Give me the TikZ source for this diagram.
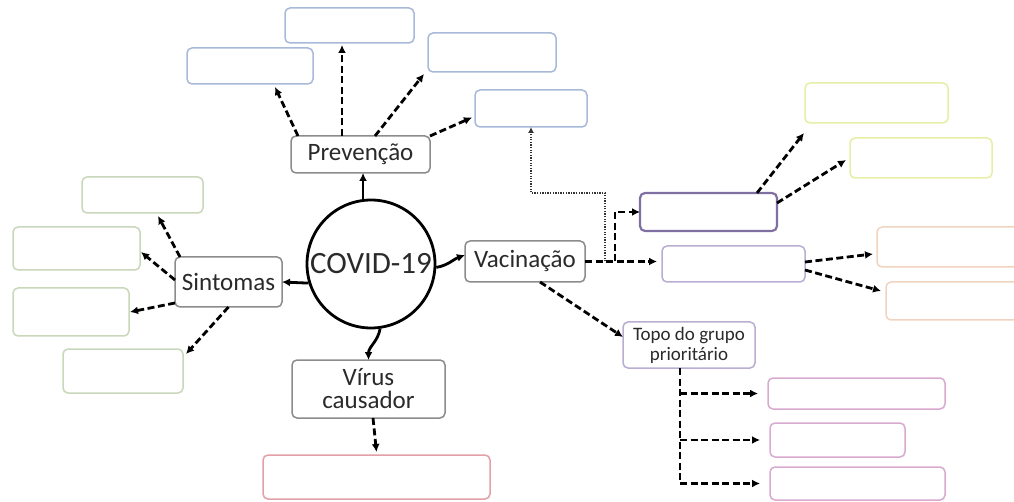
\documentclass[tikz,border=0pt]{standalone}
\usepackage{fontspec}
\setmainfont{Carlito}
\usetikzlibrary{arrows.meta}
\definecolor{maingray}{HTML}{8C8C8C}
\definecolor{bluebd}{HTML}{A9B9D9}
\definecolor{greenbd}{HTML}{C9D7BA}
\definecolor{yellowbd}{HTML}{E6EFA4}
\definecolor{orangebd}{HTML}{F1D4C0}
\definecolor{purpledark}{HTML}{7F6FA2}
\definecolor{purplelight}{HTML}{B9AED2}
\definecolor{pinkbd}{HTML}{D9AACF}
\definecolor{redbd}{HTML}{E2A0A8}
\definecolor{txt}{HTML}{2A2A2A}
\tikzset{
  box/.style={draw, rounded corners=5pt, inner sep=0pt, outer sep=0pt, line width=1.5pt, fill=white},
  mainbox/.style={box, draw=maingray, text=txt, font=\fontsize{25}{27}\selectfont, align=center},
  emptybox/.style={box, draw=#1},
  dar/.style={draw=black, line width=2.8pt, dash pattern=on 7pt off 3.5pt, -{Latex[length=8pt,width=8pt]}},
  sar/.style={draw=black, line width=2.8pt, -{Latex[length=8pt,width=8pt]}},
  dotar/.style={draw=black!80, line width=2pt, dash pattern=on 1.3pt off 1.3pt, -{Latex[length=6pt,width=6pt]}}
}
\begin{document}
\begin{tikzpicture}[x=1pt,y=-1pt]
\useasboundingbox (0,0) rectangle (1014,502);
% Prevention branch
\node[emptybox=bluebd, minimum width=126pt, minimum height=36pt] (P1) at (250,66) {};
\node[emptybox=bluebd, minimum width=129pt, minimum height=35pt] (P2) at (349.5,25.5) {};
\node[emptybox=bluebd, minimum width=128pt, minimum height=39pt] (P3) at (492,52.5) {};
\node[emptybox=bluebd, minimum width=112pt, minimum height=37pt] (P4) at (531,108.5) {};
\node[mainbox, minimum width=139pt, minimum height=37pt] (Prev) at (360.5,154.5) {Prevenção};
% center
\node[circle, draw=black, line width=2.8pt, minimum size=128pt, inner sep=0pt, text=txt, font=\fontsize{31}{33}\selectfont] (C) at (371,264) {COVID-19};
% main children
\node[mainbox, minimum width=120pt, minimum height=41pt] (Vac) at (525,261.5) {Vacinação};
\node[mainbox, minimum width=107pt, minimum height=50pt] (Sint) at (228.5,282) {Sintomas};
\node[mainbox, minimum width=153pt, minimum height=58pt] (Virus) at (368.5,389) {Vírus\\[-4pt]causador};
% Sintomas children
\node[emptybox=greenbd, minimum width=121pt, minimum height=36pt] (S1) at (142.5,195) {};
\node[emptybox=greenbd, minimum width=127pt, minimum height=43pt] (S2) at (76.5,248.5) {};
\node[emptybox=greenbd, minimum width=116pt, minimum height=48pt] (S3) at (71,312) {};
\node[emptybox=greenbd, minimum width=120pt, minimum height=44pt] (S4) at (123,371) {};
% virus child
\node[emptybox=redbd, minimum width=227pt, minimum height=44pt] (Red) at (376.5,477) {};
% vacinacao children
\node[emptybox=purpledark, line width=2.2pt, minimum width=137pt, minimum height=38pt] (V1) at (708.5,212) {};
\node[emptybox=purplelight, minimum width=143pt, minimum height=36pt] (V2) at (733.5,264) {};
\node[emptybox=yellowbd, minimum width=143pt, minimum height=40pt] (Y1) at (876.5,103) {};
\node[emptybox=yellowbd, minimum width=142pt, minimum height=40pt] (Y2) at (921,158) {};
\node[emptybox=orangebd, minimum width=143pt, minimum height=40pt] (O1) at (948.5,247) {};
\node[emptybox=orangebd, minimum width=134pt, minimum height=38pt] (O2) at (953,301) {};
\node[box, draw=purplelight, text=txt, font=\fontsize{19}{20}\selectfont, align=center, minimum width=132pt, minimum height=46pt] (Topo) at (689,345) {Topo do grupo\\prioritário};
\node[emptybox=pinkbd, minimum width=177pt, minimum height=31pt] (K1) at (856.5,393.5) {};
\node[emptybox=pinkbd, minimum width=135pt, minimum height=34pt] (K2) at (837.5,440) {};
\node[emptybox=pinkbd, minimum width=175pt, minimum height=33pt] (K3) at (857.5,483.5) {};

% connectors from centre
\draw[sar] (C.97) -- (C.97 |- Prev.south);
\draw[sar] (C.197) -- (Sint.east);
\draw[sar] (C.-3) to[out=10,in=200] ([yshift=6.5pt]Vac.west);
\draw[sar] (C.-82) to[out=-100,in=90] (Virus.north);

% Prevencao arrows
\draw[dar] ([xshift=7pt]Prev.north west) -- ([xshift=-38pt,yshift=-3pt]P1.south east);
\draw[dar] ([xshift=51pt]Prev.north west) -- ([xshift=-7.5pt,yshift=-2pt]P2.south);
\draw[dar] ([xshift=84pt]Prev.north west) -- ([xshift=-4pt,yshift=-2pt]P3.south west);
\draw[dar] (Prev.north east) -- ([xshift=-3pt,yshift=-9pt]P4.west);

% dotted link Vacinacao -> P4
\coordinate (dbot) at ([xshift=20pt]Vac.east);
\coordinate (dtop) at (605,193);
\draw[dotar] (dbot) -- (dtop) -| (P4.south);

% Sintomas arrows
\draw[dar] ([xshift=5pt]Sint.north west) -- ([xshift=15.5pt,yshift=-3pt]S1.south);
\draw[dar] ([yshift=2pt]Sint.west) -- ([xshift=1pt,yshift=-3.5pt]S2.east);
\draw[dar] ([yshift=4pt]Sint.south west) -- ([xshift=1pt]S3.east);
\draw[dar] (Sint.south) -- ([xshift=3pt,yshift=-5pt]S4.north east);

% Virus
\draw[dar] ([xshift=4.5pt]Virus.south) -- ([yshift=3pt]Red.north);

% Vacinacao arrows
\draw[dar, shorten >=5pt] (Vac.east) -- (Vac.east -| V2.west);
\coordinate (br) at ([xshift=30pt]Vac.east);
\draw[dar] (br) |- (V1.west);
\draw[dar] ([xshift=-20pt]V1.north east) -- ([xshift=-1pt,yshift=-10pt]Y1.south west);
\draw[dar] ([yshift=-10pt]V1.north east) -- ([xshift=-4pt,yshift=-2pt]Y2.west);
\draw[dar] ([yshift=2pt]V2.east) -- ([xshift=-4pt,yshift=-7pt]O1.west);
\draw[dar] ([yshift=-6pt]V2.east) -- ([xshift=-5pt,yshift=10pt]O2.west);
\draw[dar] ([xshift=15pt]Vac.south) -- ([yshift=8pt]Topo.west);

% Topo tree
\coordinate (tr) at ([xshift=-9pt]Topo.south);
\draw[dar, shorten >=10pt] (tr) |- (K3.west);
\draw[dar, shorten >=10pt] (tr |- K1.west) -- (K1.west);
\draw[dar, shorten >=10pt] (tr |- K2.west) -- (K2.west);
\end{tikzpicture}
\end{document}
